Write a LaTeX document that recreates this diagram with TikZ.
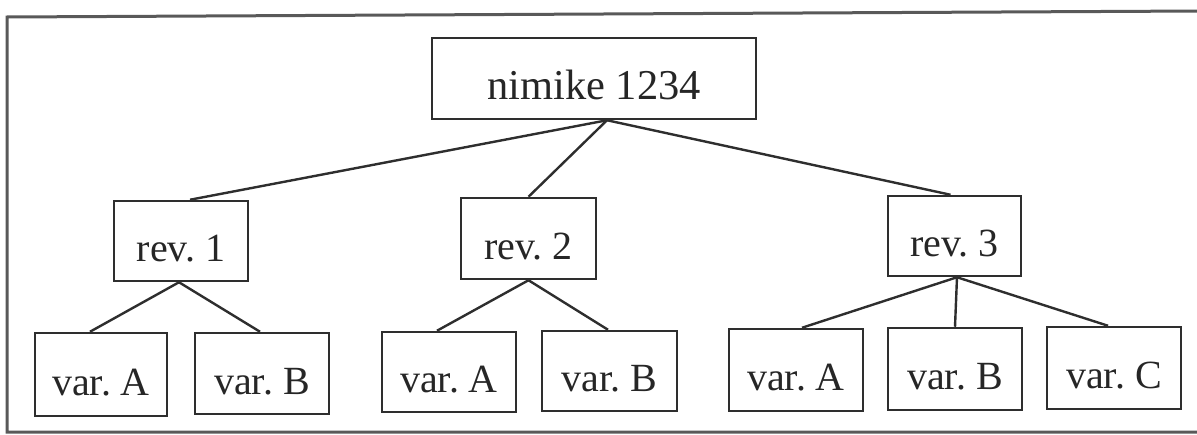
\documentclass[tikz,border=0pt]{standalone}
\usepackage{fontspec}
\setmainfont{Liberation Serif}
\frenchspacing
\begin{document}
\begin{tikzpicture}[x=1pt,y=-1pt,
  box/.style={draw=black!82, line width=2.5pt, rectangle, inner sep=0pt,
    text height=41pt, text depth=0pt, text=black!85,
    font=\fontsize{40}{43}\selectfont},
  bigbox/.style={box, font=\fontsize{42.5}{46}\selectfont},
  link/.style={draw=black!82, line width=2.4pt},
  frame/.style={draw=black!65, line width=3pt}]
\useasboundingbox (0,0) rectangle (1197,434);

% outer frame
\draw[frame] (1200,11) -- (7,17) -- (7,432) -- (1200,432);

% item
\node[bigbox, minimum width=324pt, minimum height=81pt] (top) at (594,78.5) {nimike 1234};

% revisions
\node[box, minimum width=134pt, minimum height=80pt] (rev1) at (181,241) {rev. 1};
\node[box, minimum width=135pt, minimum height=81pt] (rev2) at (528.5,238.5) {rev. 2};
\node[box, minimum width=133pt, minimum height=80pt] (rev3) at (954.5,236) {rev. 3};

% variants
\node[box, minimum width=132pt, minimum height=83pt] (r1a) at (101,374.5) {var. A};
\node[box, minimum width=134pt, minimum height=81pt] (r1b) at (262,373.5) {var. B};
\node[box, minimum width=134pt, minimum height=80pt] (r2a) at (449,372) {var. A};
\node[box, minimum width=135pt, minimum height=80pt] (r2b) at (609.5,371) {var. B};
\node[box, minimum width=134pt, minimum height=82pt] (r3a) at (796,370) {var. A};
\node[box, minimum width=134pt, minimum height=82pt] (r3b) at (955,369) {var. B};
\node[box, minimum width=134pt, minimum height=82pt] (r3c) at (1114,368) {var. C};

% connectors
\draw[link] ([xshift=13pt]top.south) -- ([xshift=9pt]rev1.north);
\draw[link] ([xshift=13pt]top.south) -- (rev2.north);
\draw[link] ([xshift=13pt]top.south) -- ([xshift=-4pt]rev3.north);

\draw[link] ([xshift=-2pt]rev1.south) -- ([xshift=-11pt]r1a.north);
\draw[link] ([xshift=-2pt]rev1.south) -- ([xshift=-2pt]r1b.north);

\draw[link] (rev2.south) -- ([xshift=-12pt]r2a.north);
\draw[link] (rev2.south) -- ([xshift=-1.5pt]r2b.north);

\draw[link] ([xshift=2.5pt]rev3.south) -- ([xshift=6pt]r3a.north);
\draw[link] ([xshift=2.5pt]rev3.south) -- (r3b.north);
\draw[link] ([xshift=2.5pt]rev3.south) -- ([xshift=-6pt]r3c.north);
\end{tikzpicture}
\end{document}
